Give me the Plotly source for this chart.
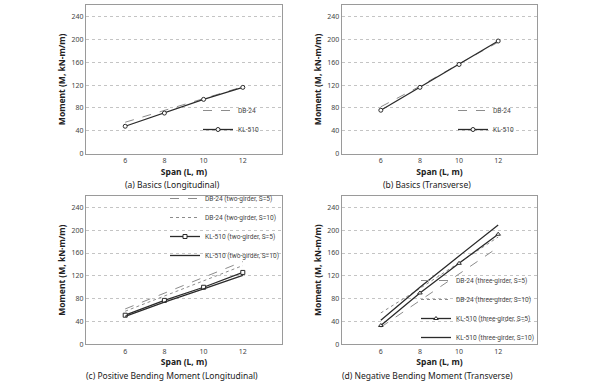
import plotly.graph_objects as go

span = [6, 8, 10, 12]

# (a) Basics (Longitudinal)
a_db24 = [55, 76, 97, 117]
a_kl510 = [48, 71, 95, 116]
# (b) Basics (Transverse)
b_db24 = [82, 118, 157, 195]
b_kl510 = [76, 116, 156, 197]
# (c) Positive Bending Moment (Longitudinal)
c_db24_s5 = [62, 90, 117, 145]
c_db24_s10 = [58, 85, 111, 138]
c_kl510_s5 = [51, 77, 100, 126]
c_kl510_s10 = [49, 74, 97, 121]
# (d) Negative Bending Moment (Transverse)
d_db24_s5 = [30, 77, 123, 170]
d_db24_s10 = [55, 98, 143, 188]
d_kl510_s5 = [33, 90, 142, 193]
d_kl510_s10 = [42, 100, 155, 209]

y_ticks = [0, 40, 80, 120, 160, 200, 240]
x_ticks = [6, 8, 10, 12]

FONT = "Noto Sans"
LEG_FONT = "Roboto"
DB_COLOR = "#8c8c8c"
KL_COLOR = "#2b2b2b"

fig = go.Figure()

def add(x, y, name, ax, legend, dash="solid", color=KL_COLOR, width=1.3, marker=None):
    mode = "lines+markers" if marker else "lines"
    kw = dict(x=x, y=y, name=name, mode=mode, xaxis="x" + ax, yaxis="y" + ax,
              legend=legend, line=dict(color=color, width=width, dash=dash))
    if marker:
        kw["marker"] = dict(symbol=marker, size=4, color="white",
                            line=dict(color=KL_COLOR, width=1))
    fig.add_trace(go.Scatter(**kw))

add(span, a_db24, "DB-24", "", "legend", dash="dash", color=DB_COLOR, width=1)
add(span, a_kl510, "KL-510", "", "legend", marker="circle")

add(span, b_db24, "DB-24", "2", "legend2", dash="dash", color=DB_COLOR, width=1)
add(span, b_kl510, "KL-510", "2", "legend2", marker="circle")

add(span, c_db24_s5, "DB-24 (two-girder, S=5)", "3", "legend3", dash="dash", color=DB_COLOR, width=1)
add(span, c_db24_s10, "DB-24 (two-girder, S=10)", "3", "legend3", dash="dot", color=DB_COLOR, width=1)
add(span, c_kl510_s5, "KL-510 (two-girder, S=5)", "3", "legend3", marker="square")
add(span, c_kl510_s10, "KL-510 (two-girder, S=10)", "3", "legend3")

add(span, d_db24_s5, "DB-24 (three-girder, S=5)", "4", "legend4", dash="dash", color=DB_COLOR, width=1)
add(span, d_db24_s10, "DB-24 (three-girder, S=10)", "4", "legend4", dash="dot", color=DB_COLOR, width=1)
add(span, d_kl510_s5, "KL-510 (three-girder, S=5)", "4", "legend4", marker="triangle-up")
add(span, d_kl510_s10, "KL-510 (three-girder, S=10)", "4", "legend4")

W, H = 600, 384
xdom_l = [86 / W, 282 / W]
xdom_r = [341.7 / W, 537.3 / W]
ydom_t = [1 - 153.7 / H, 1 - 5 / H]
ydom_b = [1 - 344.3 / H, 1 - 196 / H]

def xax(dom, anchor):
    return dict(domain=dom, anchor=anchor, range=[4, 14], tickvals=x_ticks,
                showgrid=False, zeroline=False, showline=True, linecolor="#9a9a9a",
                linewidth=1, mirror=True, ticks="", automargin=False,
                tickfont=dict(size=7, color="#444", family=FONT),
                title=dict(text="<b>Span (L, m)</b>", font=dict(size=8.5, color="#222", family=FONT),
                           standoff=4))

def yax(dom, anchor, title):
    return dict(domain=dom, anchor=anchor, range=[0, 260], tickvals=y_ticks,
                showgrid=True, gridcolor="#c4c4c4", griddash="dot", gridwidth=1,
                zeroline=False, showline=True, linecolor="#9a9a9a", linewidth=1, mirror=True,
                ticks="", automargin=False,
                tickfont=dict(size=7, color="#444", family=FONT),
                title=dict(text="<b>" + title + "</b>", font=dict(size=8.5, color="#222", family=FONT),
                           standoff=4))

def leg(x, y):
    return dict(x=x / W, y=1 - y / H, xanchor="left", yanchor="top",
                bgcolor="rgba(255,255,255,0)",
                font=dict(size=6.6, color="#444", family=LEG_FONT), itemwidth=30,
                tracegroupgap=0, borderwidth=0)

ytitle = "Moment (M, kN-m/m)"
fig.update_layout(
    width=W, height=H, margin=dict(l=0, r=0, t=0, b=0, autoexpand=False),
    paper_bgcolor="white", plot_bgcolor="white",
    font=dict(family=FONT),
    xaxis=xax(xdom_l, "y"), yaxis=yax(ydom_t, "x", ytitle),
    xaxis2=xax(xdom_r, "y2"), yaxis2=yax(ydom_t, "x2", ytitle),
    xaxis3=xax(xdom_l, "y3"), yaxis3=yax(ydom_b, "x3", "Moment (M, kN·m/m)"),
    xaxis4=xax(xdom_r, "y4"), yaxis4=yax(ydom_b, "x4", ytitle),
    legend=leg(198, 96),
    legend2=leg(453, 96),
    legend3=leg(165, 184),
    legend4=leg(416, 266),
    showlegend=True,
)

captions = [
    ("(a) Basics (Longitudinal)", 172, 185),
    ("(b) Basics (Transverse)", 427, 185),
    ("(c) Positive Bending Moment (Longitudinal)", 172, 375),
    ("(d) Negative Bending Moment (Transverse)", 427, 375),
]
for text, cx, cy in captions:
    fig.add_annotation(text=text, x=cx / W, y=1 - cy / H, xref="paper", yref="paper",
                       showarrow=False, xanchor="center", yanchor="middle",
                       font=dict(size=8.5, color="#222", family=FONT))

fig.write_html("out.html", config={"displayModeBar": False},
               post_script="document.body.style.margin='0';document.body.style.padding='0';")
